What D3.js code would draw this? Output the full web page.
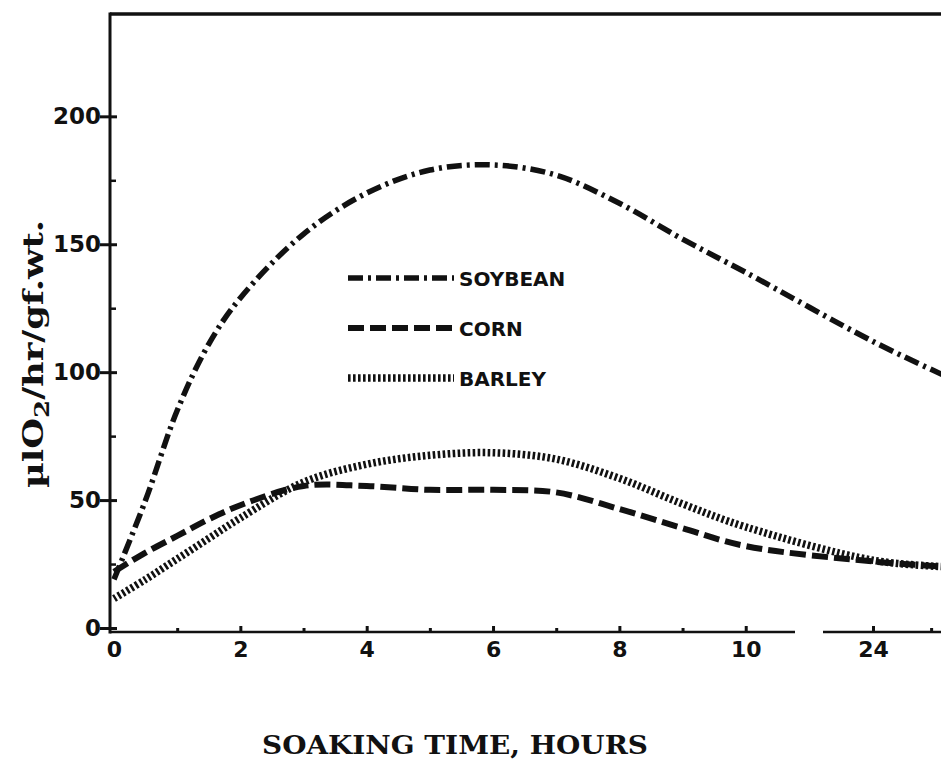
<!DOCTYPE html>
<html>
<head>
<meta charset="utf-8">
<script src="https://cdn.jsdelivr.net/npm/d3@7"></script>
<style>
  html, body { margin: 0; padding: 0; background: #fff; }
  svg { display: block; }
  .tick text { font-family: "DejaVu Sans", sans-serif; font-weight: bold; fill: #111; }
</style>
</head>
<body>
<svg id="chart" width="941" height="762"></svg>
<script>
// hours soaked (right part after the axis break)
const hours = [0, 0.5, 1, 1.5, 2, 3, 4, 5, 6, 7, 8, 9, 10, 24, 25.2];
const soybean = [19, 50, 85, 111, 129, 154, 170, 179, 181, 177, 166, 152, 139, 112, 99];
const corn = [22, 29.5, 36, 42.5, 48, 55.5, 55.5, 54, 54, 53, 46.5, 39, 32, 26, 24];
const barley = [11.5, 19, 27, 35, 43, 57, 64, 67.5, 68.5, 66, 58.5, 48.5, 39.5, 26.5, 24];

const seriesNames = ["SOYBEAN", "CORN", "BARLEY"];
const xLabelTicks = [0, 2, 4, 6, 8, 10, 24];
const xMinorTicks = [1, 3, 5, 7, 9, 25];
const yLabelTicks = [0, 50, 100, 150, 200];
const yMinorTicks = [25, 75, 125, 175];

const W = 941;
const H = 762;
const plotLeft = 110, plotTop = 14, plotBottom = 632;
const breakStart = 795, breakEnd = 823;

let svg = d3.select("#chart");

// piecewise scale with a gap between 10.8 and 23.14 h
let x = d3.scaleLinear()
    .domain([0, 10.78, 23.14, 25.17])
    .range([114, breakStart, breakEnd, W]);

let y = d3.scaleLinear()
    .domain([0, 240])
    .range([628, plotTop]);

svg.append("defs").append("clipPath").attr("id", "plot")
    .append("rect")
    .attr("x", plotLeft).attr("y", plotTop)
    .attr("width", W - plotLeft).attr("height", plotBottom - plotTop);

// frame: top border, left axis, broken bottom axis
const frame = svg.append("g").attr("stroke", "#111").attr("stroke-width", 3).attr("fill", "none");
frame.append("line").attr("x1", plotLeft).attr("x2", W).attr("y1", plotTop).attr("y2", plotTop).attr("stroke-width", 3.5);
frame.append("line").attr("x1", plotLeft).attr("x2", plotLeft).attr("y1", plotTop - 1.5).attr("y2", plotBottom + 1.5);
frame.append("line").attr("x1", plotLeft).attr("x2", breakStart).attr("y1", plotBottom).attr("y2", plotBottom).attr("stroke-width", 2.5);
frame.append("line").attr("x1", breakEnd).attr("x2", W).attr("y1", plotBottom).attr("y2", plotBottom).attr("stroke-width", 2.5);

// y axis
let axisY = d3.axisLeft(y).tickValues(yLabelTicks).tickSizeInner(10).tickSizeOuter(0).tickPadding(2);
let gy = svg.append("g").attr("transform", "translate(" + plotLeft + ",0)").call(axisY);
gy.select(".domain").remove();
gy.selectAll(".tick line").attr("x1", -10).attr("x2", 7).attr("stroke", "#111").attr("stroke-width", 3);
gy.selectAll(".tick text").attr("font-size", 23).attr("x", -9);

let gyMinor = svg.append("g").attr("transform", "translate(" + plotLeft + ",0)")
    .call(d3.axisRight(y).tickValues(yMinorTicks).tickSize(6).tickFormat(""));
gyMinor.select(".domain").remove();
gyMinor.selectAll(".tick line").attr("stroke", "#111").attr("stroke-width", 2.5);

// x axis (ticks point up into the plot)
let axisX = d3.axisBottom(x).tickValues(xLabelTicks).tickSizeInner(-6).tickSizeOuter(0).tickPadding(10);
let gx = svg.append("g").attr("transform", "translate(0," + plotBottom + ")").call(axisX);
gx.select(".domain").remove();
gx.selectAll(".tick line").attr("stroke", "#111").attr("stroke-width", 3);
gx.selectAll(".tick text").attr("font-size", 22).attr("y", 9);
gx.selectAll(".tick").filter(d => d === 0).select("line").remove();

let gxMinor = svg.append("g").attr("transform", "translate(0," + plotBottom + ")")
    .call(d3.axisTop(x).tickValues(xMinorTicks).tickSize(4).tickFormat(""));
gxMinor.select(".domain").remove();
gxMinor.selectAll(".tick line").attr("stroke", "#111").attr("stroke-width", 3);

// curves
const styles = [
    { data: soybean, dash: "15,5,3,5", w: 5.5 },
    { data: corn, dash: "16,6", w: 6 },
    { data: barley, dash: "2.6,2.4", w: 7.5 }
];

let line = d3.line()
    .x((d, i) => x(hours[i]))
    .y(d => y(d))
    .curve(d3.curveCatmullRom.alpha(0.5));

let plot = svg.append("g").attr("clip-path", "url(#plot)");
styles.forEach(s => {
    plot.append("path")
        .attr("d", line(s.data))
        .attr("fill", "none")
        .attr("stroke", "#111")
        .attr("stroke-width", s.w)
        .attr("stroke-dasharray", s.dash);
});

// legend
const legendY = [278, 328, 378];
let legend = svg.append("g");
seriesNames.forEach((name, i) => {
    legend.append("line")
        .attr("x1", 348).attr("x2", 454)
        .attr("y1", legendY[i]).attr("y2", legendY[i])
        .attr("stroke", "#111")
        .attr("stroke-width", styles[i].w)
        .attr("stroke-dasharray", styles[i].dash);
    legend.append("text")
        .attr("x", 459).attr("y", legendY[i] + 7.5)
        .attr("font-family", "DejaVu Sans, sans-serif")
        .attr("font-weight", "bold")
        .attr("font-size", 20)
        .attr("fill", "#111")
        .text(name);
});

// axis titles
svg.append("text")
    .attr("x", 455).attr("y", 754)
    .attr("text-anchor", "middle")
    .attr("font-family", "DejaVu Serif, serif")
    .attr("font-weight", "bold")
    .attr("font-size", 26)
    .attr("textLength", 386)
    .attr("lengthAdjust", "spacingAndGlyphs")
    .attr("fill", "#111")
    .text("SOAKING TIME, HOURS");

let yTitle = svg.append("text")
    .attr("transform", "translate(43,354) rotate(-90)")
    .attr("text-anchor", "middle")
    .attr("font-family", "DejaVu Serif, serif")
    .attr("font-weight", "bold")
    .attr("font-size", 27)
    .attr("textLength", 268)
    .attr("lengthAdjust", "spacingAndGlyphs")
    .attr("fill", "#111");
yTitle.append("tspan").text("\u00b5lO");
yTitle.append("tspan").attr("font-size", 20).attr("dy", 6).text("2");
yTitle.append("tspan").attr("dy", -6).text("/hr/gf.wt.");
</script>
</body>
</html>
